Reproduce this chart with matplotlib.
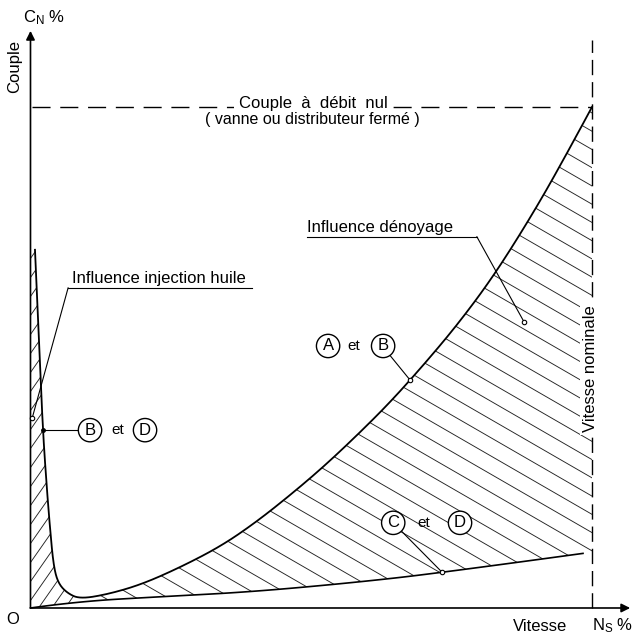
import numpy as np
import matplotlib
matplotlib.use("Agg")
import matplotlib.pyplot as plt
from matplotlib.patches import Polygon

plt.rcParams["font.family"] = ["Liberation Sans", "DejaVu Sans"]
plt.rcParams["mathtext.default"] = "regular"

# ====== courbes (vitesse en % de Ns, couple en % de Cn) ======
# courbe A et B (dénoyée)
upper_x = [8.8, 14, 20, 27, 34, 40, 46, 52, 58, 64, 70, 76, 82, 88, 94, 100]
upper_y = [1.8, 2.8, 4.8, 8.3, 12.4, 17.0, 22.3, 28.0, 34.3, 41.0, 48.5, 56.5, 65.5, 76.0, 87.5, 100]
# courbe B et D (injection d'huile, démarrage)
oil_x = [0.8, 1.5, 2.2, 2.9, 3.5, 4.1, 4.9, 6.5, 8.8]
oil_y = [71.5, 53.5, 35.5, 24.0, 15.6, 8.5, 5.0, 3.0, 1.8]
# courbe C et D (noyée)
lower_x = [0, 8.3, 24, 39, 57, 73, 98.4]
lower_y = [0, 1.3, 2.3, 3.2, 5.0, 7.0, 10.9]

ZERO_FLOW = 100   # couple à débit nul
NOMINAL = 100     # vitesse nominale

FS = 12
LINE = "black"
HATCH = "#222222"


def smooth(xs, ys, n=16):
    # B-spline quadratique passant par les milieux des points
    p = np.column_stack([xs, ys]).astype(float)
    mids = (p[1:-2] + p[2:-1]) / 2
    starts = np.vstack([p[0], mids])
    ends = np.vstack([mids, p[-1]])
    ctrls = p[1:-1]
    t = np.linspace(0, 1, n)[1:, None]
    out = [p[0]]
    for a, c, b in zip(starts, ctrls, ends):
        out.extend((1 - t) ** 2 * a + 2 * (1 - t) * t * c + t ** 2 * b)
    return np.array(out)


def hatch(ax, xy, angle, gap, lw=0.65):
    poly = Polygon(xy, closed=True, fc="none", ec="none")
    ax.add_patch(poly)
    tr = ax.transData
    px = tr.transform(xy)
    c = px.mean(axis=0)
    t = np.deg2rad(angle)
    d = np.array([np.cos(t), np.sin(t)])
    nrm = np.array([-np.sin(t), np.cos(t)])
    proj = (px - c) @ nrm
    inv = tr.inverted()
    for k in np.arange(np.floor(proj.min() / gap), np.ceil(proj.max() / gap) + 1):
        p = c + k * gap * nrm
        seg = inv.transform(np.array([p - 1500 * d, p + 1500 * d]))
        ln, = ax.plot(seg[:, 0], seg[:, 1], color=HATCH, lw=lw, zorder=1)
        ln.set_clip_path(poly)


def circled(ax, x, y, letter):
    ax.text(x, y, letter, ha="center", va="center", fontsize=FS, zorder=6,
            bbox=dict(boxstyle="circle,pad=0.25", fc="white", ec=LINE, lw=1.0))


fig = plt.figure(figsize=(6.35, 6.36), dpi=100)
ax = fig.add_axes([0, 0, 1, 1])
ax.set_xlim(-5.43, 107.66)
ax.set_ylim(-5.59, 121.36)
ax.axis("off")

# courbe principale : B et D puis A et B
main = smooth(oil_x + upper_x[1:], oil_y + upper_y[1:])
low = smooth(lower_x, lower_y)
split = int(np.argmin(main[:, 1]))
xs_split = main[split, 0]

# zone hachurée injection huile
left_xy = np.vstack([[0, main[0, 1] - 1], main[:split + 1], low[low[:, 0] < xs_split][::-1]])
hatch(ax, left_xy, 55, 10.9)

# zone hachurée dénoyage
big_xy = np.vstack([main[split:], [NOMINAL, low[-1, 1]], low[low[:, 0] > xs_split][::-1]])
hatch(ax, big_xy, -30, 15.8)

ax.plot(main[:, 0], main[:, 1], color=LINE, lw=1.3, zorder=3)
ax.plot(low[:, 0], low[:, 1], color=LINE, lw=1.2, zorder=3)

# axes
arrow = dict(arrowstyle="-|>", color=LINE, lw=1.2, mutation_scale=13, shrinkA=0, shrinkB=0)
ax.annotate("", xy=(0, 115.2), xytext=(0, 0), arrowprops=arrow, zorder=4)
ax.annotate("", xy=(106.8, 0), xytext=(0, 0), arrowprops=arrow, zorder=4)

# couple à débit nul / vitesse nominale
ax.plot([0.3, NOMINAL], [ZERO_FLOW, ZERO_FLOW], color=LINE, lw=1.0, dashes=(13, 7), zorder=2)
ax.plot([NOMINAL, NOMINAL], [0, 113.4], color=LINE, lw=1.0, dashes=(11, 5), zorder=2)
ax.text(50.4, ZERO_FLOW - 0.2, "Couple  à  débit  nul", ha="center", va="baseline", fontsize=FS,
        zorder=5, bbox=dict(boxstyle="square,pad=0.3", fc="white", ec="none"))
ax.text(50.2, ZERO_FLOW - 0.9, "( vanne ou distributeur fermé )", ha="center", va="top",
        fontsize=FS - 0.5, zorder=5)
ax.text(NOMINAL - 0.3, 47.7, "Vitesse nominale", rotation=90, ha="center", va="center",
        fontsize=FS, zorder=5, bbox=dict(boxstyle="square,pad=0.15", fc="white", ec="none"))

# libellés des axes
ax.text(-1.3, 117.8, "C$_{N}$ %", ha="left", va="center", fontsize=FS)
ax.text(-2.8, 108.0, "Couple", rotation=90, ha="center", va="center", fontsize=FS)
ax.text(-3.1, -2.2, "O", ha="center", va="center", fontsize=FS)
ax.text(90.7, -3.6, "Vitesse", ha="center", va="center", fontsize=FS)
ax.text(100.0, -3.6, "N$_{S}$ %", ha="left", va="center", fontsize=FS)

dot = dict(marker="o", ms=3.2, mfc="white", mec=LINE, mew=0.8, ls="none", zorder=4)
lead = dict(color=LINE, lw=0.8, zorder=4)

# Influence injection huile
ax.text(7.4, 64.8, "Influence injection huile", ha="left", va="baseline", fontsize=FS)
ax.plot([6.7, 39.4], [63.9, 63.9], **lead)
ax.plot([6.7, 0.3], [63.9, 37.9], **lead)
ax.plot([0.3], [37.9], **dot)

# B et D
bd_y = 35.5
bd_x = np.interp(bd_y, main[:split + 1, 1][::-1], main[:split + 1, 0][::-1])
ax.plot([bd_x, 10.6], [bd_y, bd_y], **lead)
ax.plot([bd_x], [bd_y], marker="o", ms=2.5, color=LINE, ls="none", zorder=4)
circled(ax, 10.6, bd_y, "B")
ax.text(15.5, bd_y, "et", ha="center", va="center", fontsize=FS - 1)
circled(ax, 20.4, bd_y, "D")

# A et B
ab_x = 67.6
ab_y = np.interp(ab_x, main[split:, 0], main[split:, 1])
ax.plot([62.8, ab_x], [52.1, ab_y], **lead)
ax.plot([ab_x], [ab_y], **dot)
circled(ax, 53.0, 52.3, "A")
ax.text(57.6, 52.3, "et", ha="center", va="center", fontsize=FS - 1)
circled(ax, 62.8, 52.3, "B")

# C et D
cd_x = 73.3
cd_y = np.interp(cd_x, low[:, 0], low[:, 1])
ax.plot([64.6, cd_x], [17.0, cd_y], **lead)
ax.plot([cd_x], [cd_y], **dot)
circled(ax, 64.6, 17.0, "C")
ax.text(70.0, 17.0, "et", ha="center", va="center", fontsize=FS - 1)
circled(ax, 76.5, 17.0, "D")

# Influence dénoyage
ax.text(49.2, 75.0, "Influence dénoyage", ha="left", va="baseline", fontsize=FS)
ax.plot([49.2, 79.5], [74.1, 74.1], **lead)
ax.plot([79.5, 87.9], [74.1, 57.1], **lead)
ax.plot([87.9], [57.1], **dot)

fig.savefig("out.png", dpi=100)
